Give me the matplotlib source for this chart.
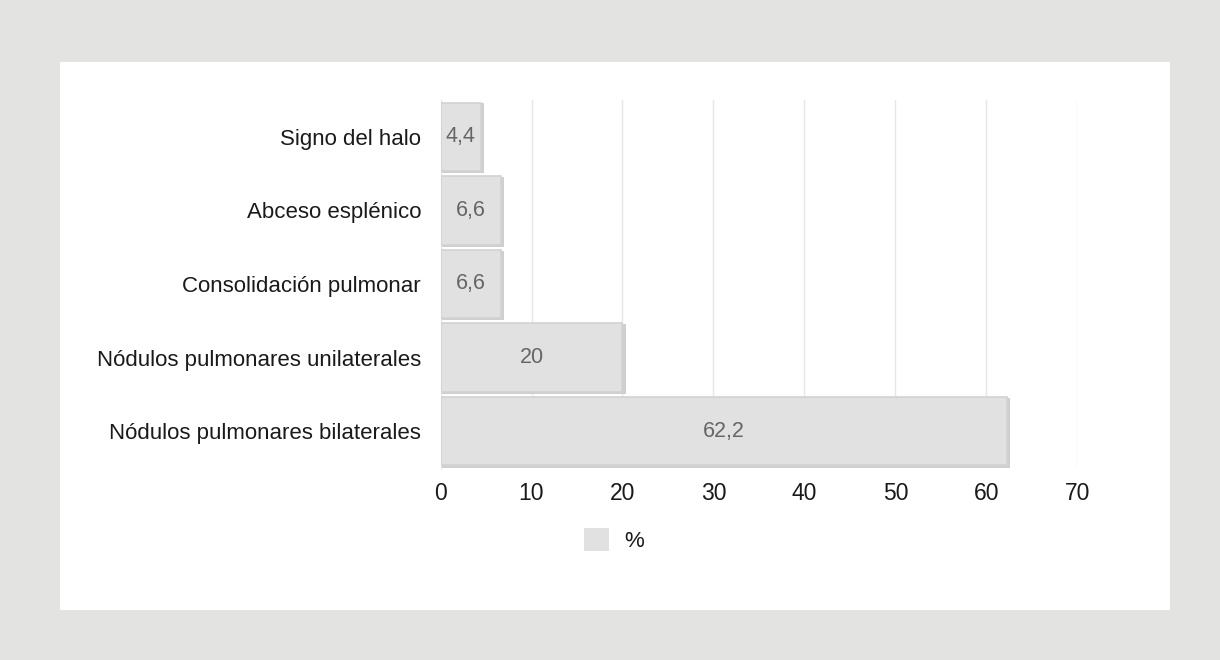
import matplotlib
matplotlib.use("Agg")
import matplotlib.pyplot as plt
from matplotlib.patches import Rectangle, Patch

categories = ["Nódulos pulmonares bilaterales", "Nódulos pulmonares unilaterales",
              "Consolidación pulmonar", "Abceso esplénico", "Signo del halo"]
values = [62.2, 20, 6.6, 6.6, 4.4]
value_labels = ["62,2", "20", "6,6", "6,6", "4,4"]
xticks = [0, 10, 20, 30, 40, 50, 60, 70]
series_name = "%"

plt.rcParams['font.family'] = ['Liberation Sans', 'DejaVu Sans']

fig = plt.figure(figsize=(12.2, 6.6), dpi=100)
fig.patch.set_facecolor('#e3e3e2')
fig.patches.append(Rectangle((60/1220, 50/660), 1110/1220, 548/660,
                             transform=fig.transFigure, facecolor='white',
                             edgecolor='none', zorder=-10))

ax = fig.add_axes([440.5/1220, 192/660, 637/1220, 368/660])
ax.set_facecolor('none')
ypos = list(range(len(categories)))
# shadow
ax.barh([y - 0.02 for y in ypos], [v + 0.35 for v in values], height=0.95,
        color='#cfcfcf', edgecolor='none', zorder=2)
bars = ax.barh(ypos, values, height=0.93, color='#e1e1e1',
               edgecolor='#d2d2d2', linewidth=1.2, zorder=3)
for y, v, lab in zip(ypos, values, value_labels):
    ax.text(v / 2, y, lab, ha='center', va='center', fontsize=15.5,
            color='#666666', zorder=4)

ax.set_xlim(0, 70)
ax.set_ylim(-0.5, len(categories) - 0.5)
ax.set_xticks(xticks)
ax.set_xticklabels([str(t) for t in xticks])
ax.set_yticks(ypos)
ax.set_yticklabels(categories)
ax.tick_params(axis='both', length=0, labelsize=16, colors='#1a1a1a')
ax.tick_params(axis='x', pad=10, labelsize=16.5)
ax.tick_params(axis='y', pad=14)
ax.xaxis.grid(True, color='#e6e6e6', linewidth=1, zorder=1)
ax.set_axisbelow(True)
for s in ['top', 'right', 'bottom']:
    ax.spines[s].set_visible(False)
ax.spines['left'].set_color('#e6e6e6')

fig.legend(handles=[Patch(facecolor='#e1e1e1', edgecolor='none', label=series_name)],
           loc='center', bbox_to_anchor=(614/1220, 1 - 540/660), frameon=False,
           fontsize=16, handlelength=1.1, handleheight=1.2, handletextpad=0.7,
           labelcolor='#1a1a1a')

fig.savefig("out.png", dpi=100, facecolor=fig.get_facecolor())
